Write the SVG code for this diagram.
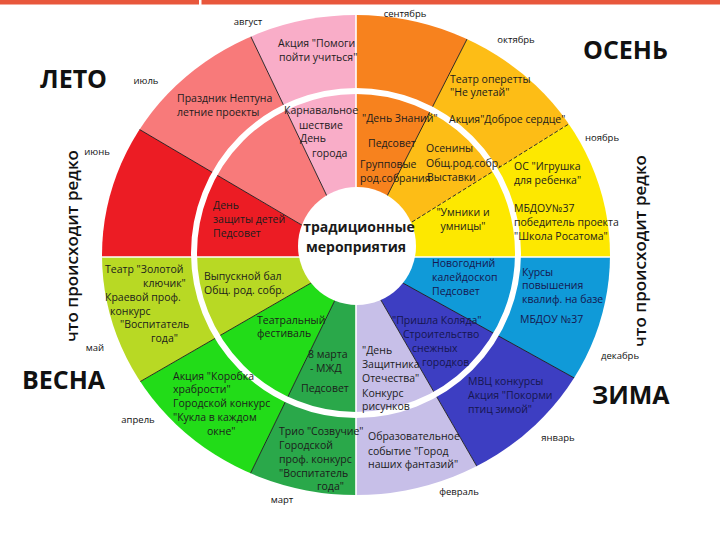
<svg xmlns="http://www.w3.org/2000/svg" width="720" height="540" viewBox="0 0 720 540">
<style>
text{font-family:"Open Sans","Noto Sans","DejaVu Sans",sans-serif;fill:#1c1c1c}
.t{font-size:10.5px}
.n{fill:#16164f}
.m{font-size:9.5px;text-anchor:middle;fill:#111}
.s{font-size:25px;font-weight:bold;fill:#111}
.v{font-size:17px;font-weight:600;text-anchor:middle;fill:#111}
.c{font-size:14px;font-weight:bold;text-anchor:middle;fill:#1a1a1a}
.dl{stroke:#1a1a1a;stroke-width:0.9;fill:none}
.wl{stroke:#fff;stroke-width:1.6;fill:none}
</style>
<defs>
<clipPath id="wheel"><ellipse cx="356" cy="255" rx="254" ry="240"/></clipPath>
</defs>
<rect x="0" y="0" width="720" height="540" fill="#fff"/>
<rect x="0" y="0" width="720" height="4.5" fill="#E8573C"/>
<rect x="199" y="0" width="2.5" height="6" fill="#fff"/>
<g id="sectors" clip-path="url(#wheel)">
<path id="sep" d="M356,257 L356,-243 L583,-188.5 Z" fill="#F7821E"/>
<path id="oct" d="M356,257 L583,-188.5 L780,-8 Z" fill="#FDBD16"/>
<path id="nov" d="M356,257 L780,-8 L856,257 Z" fill="#FDE800"/>
<path id="dec" d="M356,257 L856,257 L793.3,499.4 Z" fill="#109AD8"/>
<path id="jan" d="M356,257 L793.3,499.4 L606,690 Z" fill="#3D3EC2"/>
<path id="feb" d="M356,257 L606,690 L356,757 Z" fill="#C7BFE8"/>
<path id="mar" d="M356,257 L356,757 L136.8,706.4 Z" fill="#2AA84A"/>
<path id="apr" d="M356,257 L136.8,706.4 L-77,507 Z" fill="#22DC18"/>
<path id="may" d="M356,257 L-77,507 L-144,257 Z" fill="#B8D924"/>
<path id="jun" d="M356,257 L-144,257 L-74.8,3.2 Z" fill="#EC1C24"/>
<path id="jul" d="M356,257 L-74.8,3.2 L140.7,-194.3 Z" fill="#F87A7A"/>
<path id="aug" d="M356,257 L140.7,-194.3 L356,-243 Z" fill="#F9ADC8"/>
</g>
<g id="connectors" clip-path="url(#wheel)">
<line class="dl" x1="356" y1="257" x2="793.3" y2="499.4"/>
<line class="dl" x1="356" y1="257" x2="606" y2="690"/>
<line class="dl" x1="356" y1="257" x2="136.8" y2="706.4"/>
<line class="dl" x1="356" y1="257" x2="-77" y2="507"/>
<line class="dl" x1="356" y1="257" x2="-74.8" y2="3.2"/>
<line class="dl" x1="356" y1="257" x2="140.7" y2="-194.3"/>
<line class="dl" x1="356" y1="257" x2="583" y2="-188.5"/>
<line class="dl" x1="356" y1="257" x2="780" y2="-8" stroke-dasharray="4 2"/>
<line class="wl" x1="356" y1="257" x2="856" y2="257"/>
<line class="wl" x1="356" y1="257" x2="356" y2="757"/>
<line class="wl" x1="356" y1="257" x2="-144" y2="257"/>
<line class="wl" x1="356" y1="257" x2="356" y2="-243"/>
</g>
<circle id="ring" cx="356" cy="253" r="162" fill="none" stroke="#fff" stroke-width="6"/>
<g id="center">
<circle cx="357" cy="246" r="59" fill="#fff"/>
<text class="c" x="359" y="232">традиционные</text>
<text class="c" x="356" y="252">мероприятия</text>
</g>
<g id="labels">
<text class="s" x="40" y="88">ЛЕТО</text>
<text class="s" x="583" y="59">ОСЕНЬ</text>
<text class="s" x="22" y="389">ВЕСНА</text>
<text class="s" x="592" y="404">ЗИМА</text>
<text class="v" transform="translate(78,246) rotate(-90)">что происходит редко</text>
<text class="v" transform="translate(646,251) rotate(-90)">что происходит редко</text>
<text class="m" x="248" y="25">август</text>
<text class="m" x="405" y="17">сентябрь</text>
<text class="m" x="516" y="43">октябрь</text>
<text class="m" x="602" y="141">ноябрь</text>
<text class="m" x="620" y="359">декабрь</text>
<text class="m" x="558" y="441">январь</text>
<text class="m" x="459" y="495">февраль</text>
<text class="m" x="282" y="503">март</text>
<text class="m" x="138" y="423">апрель</text>
<text class="m" x="95" y="351">май</text>
<text class="m" x="97" y="155">июнь</text>
<text class="m" x="146" y="84">июль</text>
</g>
<g id="aug-text">
<text class="t" x="278" y="47">Акция "Помоги</text>
<text class="t" x="279" y="61">пойти учиться"</text>
<text class="t" x="284" y="114">Карнавальное</text>
<text class="t" x="299" y="129">шествие</text>
<text class="t" x="300" y="142">День</text>
<text class="t" x="312" y="157">города</text>
</g>
<g id="jul-text">
<text class="t" x="177" y="102">Праздник Нептуна</text>
<text class="t" x="177" y="116">летние проекты</text>
</g>
<g id="jun-text">
<text class="t" x="213" y="209">День</text>
<text class="t" x="213" y="223">защиты детей</text>
<text class="t" x="213" y="237">Педсовет</text>
</g>
<g id="sep-text">
<text class="t" x="362" y="122">"День Знаний"</text>
<text class="t" x="368" y="147">Педсовет</text>
<text class="t" x="360" y="168">Групповые</text>
<text class="t" x="360" y="182">род.собрания</text>
</g>
<g id="oct-text">
<text class="t" x="450" y="83">Театр оперетты</text>
<text class="t" x="450" y="96">"Не улетай"</text>
<text class="t" x="449" y="123">Акция"Доброе сердце"</text>
<text class="t" x="426" y="152">Осенины</text>
<text class="t" x="426" y="167">Общ.род.собр.</text>
<text class="t" x="427" y="181">Выставки</text>
</g>
<g id="nov-text">
<text class="t" x="514" y="170">ОС "Игрушка</text>
<text class="t" x="514" y="184">для ребенка"</text>
<text class="t" x="514" y="212">МБДОУ№37</text>
<text class="t" x="514" y="226">победитель проекта</text>
<text class="t" x="514" y="240">"Школа Росатома"</text>
<text class="t" x="463" y="216" text-anchor="middle">"Умники и</text>
<text class="t" x="463" y="230" text-anchor="middle">умницы"</text>
</g>
<g id="dec-text">
<text class="t n" x="522" y="276">Курсы</text>
<text class="t n" x="522" y="289">повышения</text>
<text class="t n" x="522" y="303">квалиф. на базе</text>
<text class="t n" x="520" y="323">МБДОУ  №37</text>
<text class="t n" x="432" y="267">Новогодний</text>
<text class="t n" x="432" y="281">калейдоскоп</text>
<text class="t n" x="432" y="295">Педсовет</text>
</g>
<g id="jan-text">
<text class="t n" x="392" y="324">"Пришла Коляда"</text>
<text class="t n" x="403" y="338">Строительство</text>
<text class="t n" x="412" y="352">снежных</text>
<text class="t n" x="422" y="366">городков</text>
<text class="t n" x="468" y="385">МВЦ конкурсы</text>
<text class="t n" x="468" y="399">Акция "Покорми</text>
<text class="t n" x="468" y="413">птиц зимой"</text>
</g>
<g id="feb-text">
<text class="t" x="362" y="354">"День</text>
<text class="t" x="362" y="368">Защитника</text>
<text class="t" x="362" y="382">Отечества"</text>
<text class="t" x="362" y="397">Конкурс</text>
<text class="t" x="362" y="410">рисунков</text>
<text class="t" x="368" y="440">Образовательное</text>
<text class="t" x="368" y="455">событие "Город</text>
<text class="t" x="368" y="468">наших фантазий"</text>
</g>
<g id="mar-text">
<text class="t" x="308" y="358">8 марта</text>
<text class="t" x="310" y="372">- МЖД</text>
<text class="t" x="301" y="392">Педсовет</text>
<text class="t" x="279" y="435">Трио "Созвучие"</text>
<text class="t" x="279" y="449">Городской</text>
<text class="t" x="279" y="463">проф. конкурс</text>
<text class="t" x="279" y="477">"Воспитатель</text>
<text class="t" x="317" y="490">года"</text>
</g>
<g id="apr-text">
<text class="t" x="257" y="324">Театральный</text>
<text class="t" x="257" y="337">фестиваль</text>
<text class="t" x="173" y="380">Акция "Коробка</text>
<text class="t" x="173" y="393">храбрости"</text>
<text class="t" x="173" y="407">Городской конкурс</text>
<text class="t" x="173" y="421">"Кукла в каждом</text>
<text class="t" x="207" y="435">окне"</text>
</g>
<g id="may-text">
<text class="t" x="105" y="273">Театр "Золотой</text>
<text class="t" x="143" y="287">ключик"</text>
<text class="t" x="105" y="301">Краевой проф.</text>
<text class="t" x="110" y="315">конкурс</text>
<text class="t" x="120" y="328">"Воспитатель</text>
<text class="t" x="151" y="342">года"</text>
<text class="t" x="204" y="280">Выпускной бал</text>
<text class="t" x="204" y="294">Общ. род. собр.</text>
</g>
</svg>
